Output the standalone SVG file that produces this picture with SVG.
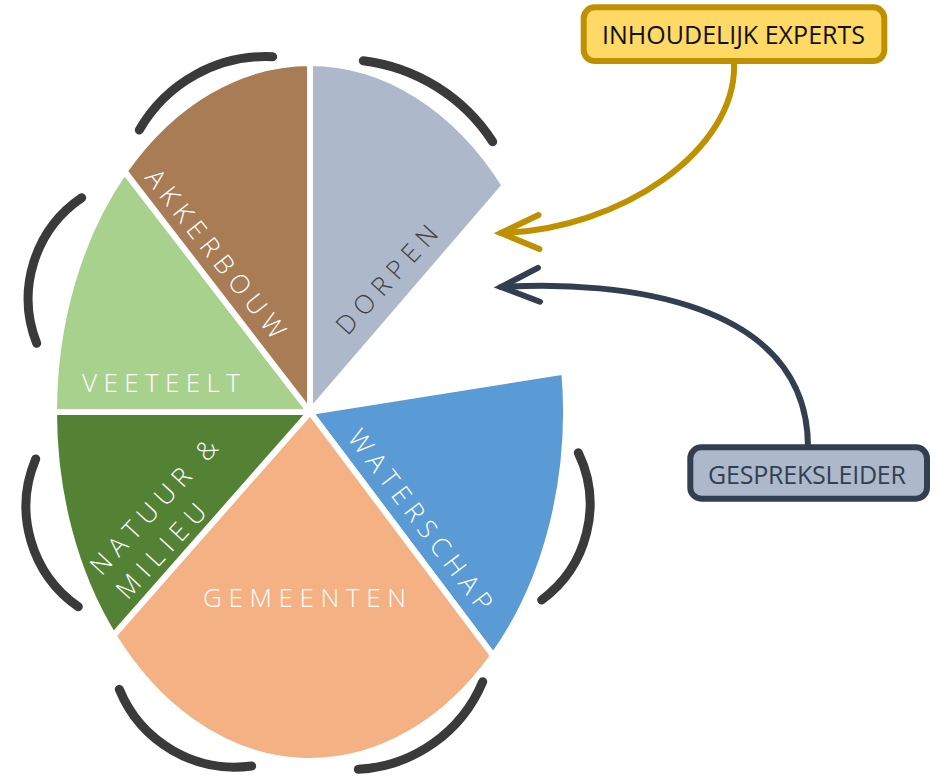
<svg xmlns="http://www.w3.org/2000/svg" width="936" height="777" viewBox="0 0 936 777">
<defs>
<style>
.slice{stroke:#fff;stroke-width:6;stroke-linejoin:round}
.lbl{font-family:"Open Sans","Noto Sans","Liberation Sans",sans-serif;font-weight:300;font-size:26px;fill:#fff}
.ring{fill:none;stroke:#3A3A3A;stroke-width:9;stroke-linecap:round}
.box{stroke-width:6}
.btxt{font-family:"Open Sans","Noto Sans","Liberation Sans",sans-serif;font-size:25px}
.conn{fill:none;stroke-width:6;stroke-linecap:round}
</style>
<marker id="arrGold" markerUnits="userSpaceOnUse" orient="auto" overflow="visible" markerWidth="1" markerHeight="1" refX="0" refY="0">
<path d="M-38,-17 L0,0 L-38,17" fill="none" stroke="#BF9000" stroke-width="6" stroke-linecap="round" stroke-linejoin="miter"/>
</marker>
<marker id="arrNavy" markerUnits="userSpaceOnUse" orient="auto" overflow="visible" markerWidth="1" markerHeight="1" refX="0" refY="0">
<path d="M-38,-17 L0,0 L-38,17" fill="none" stroke="#333F50" stroke-width="6" stroke-linecap="round" stroke-linejoin="miter"/>
</marker>
</defs>
<rect width="936" height="777" fill="#fff"/>

<g id="rings">
<path class="ring" d="M139.3,130 A146,146 0 0 1 272.7,56.7"/>
<path class="ring" d="M363.3,60.7 A181,181 0 0 1 492.7,141.7"/>
<path class="ring" d="M36.7,343.3 A122,122 0 0 1 81.7,197.7"/>
<path class="ring" d="M78.3,606.7 A122,122 0 0 1 35.7,459"/>
<path class="ring" d="M251.7,766 A125,125 0 0 1 119.3,689.3"/>
<path class="ring" d="M482.7,681.7 A143,143 0 0 1 358.3,769.3"/>
<path class="ring" d="M578.3,452.7 A119,119 0 0 1 541.7,600"/>
</g>

<g id="node-dorpen">
<path class="slice" fill="#ADB9CA" d="M310,412 L310,63 A256,349 0 0 1 504.8,185.5 Z"/>
<text class="lbl" style="fill:#404040" transform="translate(347.5,336.5) rotate(-47.7)" textLength="137">DORPEN</text>
</g>
<g id="node-waterschap">
<path class="slice" fill="#5B9BD5" d="M310,412 L564.3,371.6 A256,349 0 0 1 493.2,655.7 Z"/>
<text class="lbl" transform="translate(346.7,437.9) rotate(52.8)" textLength="220">WATERSCHAP</text>
</g>
<g id="node-gemeenten">
<path class="slice" fill="#F4B183" d="M310,412 L493.2,655.7 A256,349 0 0 1 113.3,635.4 Z"/>
<text class="lbl" x="203" y="607" textLength="203">GEMEENTEN</text>
</g>
<g id="node-natuur">
<path class="slice" fill="#548235" d="M310,412 L113.3,635.4 A256,349 0 0 1 54,412 Z"/>
<g transform="translate(101.5,576.7) rotate(-47.2)">
<text class="lbl" x="0" y="0" textLength="174">NATUUR &amp;</text>
<text class="lbl" x="0" y="35.4" textLength="119">MILIEU</text>
</g>
</g>
<g id="node-veeteelt">
<path class="slice" fill="#A9D18E" d="M310,412 L54,412 A256,349 0 0 1 124.6,171.3 Z"/>
<text class="lbl" x="82" y="392" textLength="158">VEETEELT</text>
</g>
<g id="node-akkerbouw">
<path class="slice" fill="#A87C55" d="M310,412 L124.6,171.3 A256,349 0 0 1 310,63 Z"/>
<text class="lbl" transform="translate(144,178) rotate(51.6)" textLength="208">AKKERBOUW</text>
</g>

<g id="connectors">
<path class="conn" stroke="#BF9000" d="M734,62 C738,150 620,230 501,233" marker-end="url(#arrGold)"/>
<path class="conn" stroke="#333F50" d="M808,447 C808,300 620,280 501,287" marker-end="url(#arrNavy)"/>
</g>

<g id="node-experts">
<rect class="box" x="583.7" y="7.3" width="300.6" height="53.7" rx="11" fill="#FFD966" stroke="#BF9000"/>
<text class="btxt" x="602" y="43.5" textLength="263" fill="#111">INHOUDELIJK EXPERTS</text>
</g>
<g id="node-gespreksleider">
<rect class="box" x="690.3" y="447.3" width="236.7" height="51.4" rx="11" fill="#ADB9CA" stroke="#333F50"/>
<text class="btxt" x="708" y="483.5" textLength="198" fill="#333F50">GESPREKSLEIDER</text>
</g>
</svg>
